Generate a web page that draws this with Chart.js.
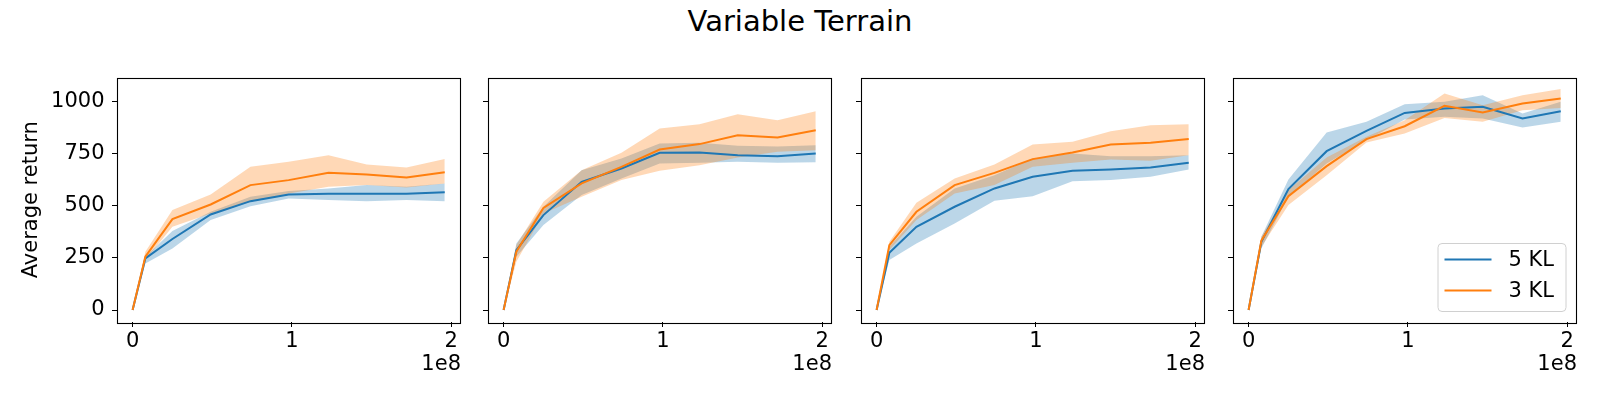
<!DOCTYPE html>
<html>
<head>
<meta charset="utf-8">
<script src="https://cdn.jsdelivr.net/npm/chart.js@4.4.1/dist/chart.umd.min.js"></script>
<style>
  body { margin: 0; background: #fff; }
  #wrap { position: relative; width: 1600px; height: 400px; overflow: hidden; }
  #title { position: absolute; left: 0; top: 7px; width: 1600px; text-align: center;
           font-family: "DejaVu Sans"; font-size: 29px; line-height: 29px; color: #000; }
  .panel { position: absolute; top: 0; height: 400px; }
</style>
</head>
<body>
<div id="wrap">
  <div id="title">Variable Terrain</div>
</div>
<script>
// training steps (x) shared by every panel
const steps = [0, 8e6, 2.5e7, 4.9e7, 7.4e7, 9.8e7, 1.23e8, 1.47e8, 1.72e8, 1.96e8];
const xTicks = [0, 1e8, 2e8];
const yTicks = [0, 250, 500, 750, 1000];
const seriesNames = ['5 KL', '3 KL'];

// one row per panel
const kl5Mean = [
    [0, 248, 341, 459, 523, 555, 558, 558, 558, 566],
    [0, 288, 456, 616, 680, 755, 757, 744, 739, 752],
    [0, 275, 400, 496, 584, 640, 669, 675, 685, 707],
    [0, 328, 581, 763, 861, 947, 968, 976, 920, 955]
];
const kl5Low = [
    [0, 224, 296, 432, 499, 536, 528, 523, 528, 523],
    [0, 256, 408, 552, 632, 704, 707, 712, 707, 710],
    [0, 240, 320, 416, 525, 547, 619, 624, 640, 675],
    [0, 296, 544, 704, 816, 915, 928, 920, 877, 904]
];
const kl5High = [
    [0, 256, 379, 472, 544, 572, 584, 600, 592, 608],
    [0, 320, 496, 672, 728, 800, 803, 789, 786, 792],
    [0, 304, 448, 584, 648, 728, 752, 739, 739, 744],
    [0, 352, 627, 853, 904, 989, 1000, 1032, 944, 1000]
];
const kl3Mean = [
    [0, 256, 437, 507, 600, 624, 659, 651, 637, 662],
    [0, 280, 490, 608, 688, 771, 797, 840, 829, 864],
    [0, 312, 472, 600, 659, 725, 757, 795, 803, 821],
    [0, 333, 547, 691, 821, 883, 981, 949, 992, 1016]
];
const kl3Low = [
    [0, 240, 400, 464, 520, 560, 592, 600, 589, 608],
    [0, 232, 464, 544, 624, 669, 696, 733, 760, 768],
    [0, 288, 432, 560, 600, 688, 707, 723, 717, 744],
    [0, 304, 504, 648, 805, 848, 923, 904, 960, 970]
];
const kl3High = [
    [0, 280, 480, 555, 688, 712, 744, 699, 685, 725],
    [0, 312, 520, 672, 755, 872, 893, 941, 912, 955],
    [0, 328, 515, 632, 699, 795, 808, 859, 888, 893],
    [0, 352, 576, 733, 832, 912, 1040, 984, 1032, 1062]
];

const BLUE = '#1f77b4';
const ORANGE = '#ff7f0e';
const FONT = { family: 'DejaVu Sans', size: 21 };

// layout of the four axes boxes (page pixels)
const areaLeft = [117, 488, 861, 1233];
const areaWidth = 344;
const areaTop = 77.5;
const xAxisHeight = 78;

function pts(values) {
    return values.map((v, i) => ({ x: steps[i], y: v }));
}

// black box round the plot area, like matplotlib spines
const framePlugin = {
    id: 'frame',
    afterDatasetsDraw(chart) {
        const a = chart.chartArea;
        const ctx = chart.ctx;
        ctx.save();
        ctx.strokeStyle = '#000';
        ctx.lineWidth = 1.1;
        ctx.strokeRect(Math.round(a.left) + 0.5, Math.round(a.top) + 0.5,
            Math.round(a.right - a.left) - 1, Math.round(a.bottom - a.top));
        ctx.restore();
    }
};

// matplotlib-style legend box in the lower right corner
const legendPlugin = {
    id: 'boxLegend',
    afterDraw(chart, args, opts) {
        if (!opts.show) return;
        const a = chart.chartArea;
        const ctx = chart.ctx;
        const w = 128, h = 68;
        const x0 = a.right - 11.5 - w;
        const y0 = a.bottom - 11 - h;
        ctx.save();
        ctx.beginPath();
        ctx.roundRect(x0 + 0.5, y0 + 0.5, w, h, 4);
        ctx.fillStyle = 'rgba(255,255,255,0.8)';
        ctx.fill();
        ctx.strokeStyle = '#d0d0d0';
        ctx.lineWidth = 1;
        ctx.stroke();
        const colors = [BLUE, ORANGE];
        ctx.font = '21px "DejaVu Sans"';
        ctx.textBaseline = 'middle';
        ctx.textAlign = 'left';
        seriesNames.forEach((name, i) => {
            const y = y0 + 16.5 + i * 31;
            ctx.strokeStyle = colors[i];
            ctx.lineWidth = 2;
            ctx.beginPath();
            ctx.moveTo(x0 + 7, y);
            ctx.lineTo(x0 + 54, y);
            ctx.stroke();
            ctx.fillStyle = '#000';
            ctx.fillText(name, x0 + 71, y + 1);
        });
        ctx.restore();
    }
};

const wrap = document.getElementById('wrap');

for (let k = 0; k < 4; k++) {
    const axisW = k === 0 ? areaLeft[0] : 20;
    const canvasLeft = areaLeft[k] - axisW;
    const canvasW = axisW + areaWidth + 4;

    const div = document.createElement('div');
    div.className = 'panel';
    div.style.left = canvasLeft + 'px';
    div.style.width = canvasW + 'px';
    const canvas = document.createElement('canvas');
    div.appendChild(canvas);
    wrap.appendChild(div);

    new Chart(canvas.getContext('2d'), {
        type: 'line',
        data: {
            datasets: [
                { data: pts(kl5Mean[k]), borderColor: BLUE, borderWidth: 2, order: 1 },
                { data: pts(kl3Mean[k]), borderColor: ORANGE, borderWidth: 2, order: 0 },
                { data: pts(kl5Low[k]), borderWidth: 0, borderColor: 'rgba(0,0,0,0)', order: 5 },
                { data: pts(kl5High[k]), borderWidth: 0, borderColor: 'rgba(0,0,0,0)',
                  fill: '-1', backgroundColor: 'rgba(31,119,180,0.3)', order: 4 },
                { data: pts(kl3Low[k]), borderWidth: 0, borderColor: 'rgba(0,0,0,0)', order: 3 },
                { data: pts(kl3High[k]), borderWidth: 0, borderColor: 'rgba(0,0,0,0)',
                  fill: '-1', backgroundColor: 'rgba(255,127,14,0.3)', order: 2 }
            ]
        },
        options: {
            responsive: true,
            maintainAspectRatio: false,
            animation: false,
            devicePixelRatio: 1,
            layout: { padding: { top: areaTop, right: 4, left: 0, bottom: 0 } },
            elements: { point: { radius: 0 }, line: { tension: 0 } },
            plugins: {
                legend: { display: false },
                tooltip: { enabled: false },
                boxLegend: { show: k === 3 }
            },
            scales: {
                x: {
                    type: 'linear',
                    min: -0.098e8,
                    max: 2.062e8,
                    afterBuildTicks: s => { s.ticks = xTicks.map(v => ({ value: v })); },
                    afterFit: s => { s.height = xAxisHeight; s.paddingLeft = 0; s.paddingRight = 0; },
                    border: { display: false },
                    grid: { drawOnChartArea: false, drawTicks: true, tickLength: 5, color: '#000', lineWidth: 1 },
                    ticks: {
                        color: '#000', font: FONT, padding: 2, maxRotation: 0,
                        callback: v => String(v / 1e8)
                    },
                    title: {
                        display: true, text: '1e8', align: 'end', color: '#000', font: FONT,
                        padding: { top: 0, bottom: 23 }
                    }
                },
                y: {
                    type: 'linear',
                    min: -57.6,
                    max: 1117,
                    afterBuildTicks: s => { s.ticks = yTicks.map(v => ({ value: v })); },
                    afterFit: s => { s.width = axisW; s.paddingTop = 0; s.paddingBottom = 0; },
                    border: { display: false },
                    grid: { drawOnChartArea: false, drawTicks: true, tickLength: 5, color: '#000', lineWidth: 1 },
                    ticks: { display: k === 0, color: '#000', font: FONT, padding: 7.5, callback: v => String(v) },
                    title: {
                        display: k === 0, text: 'Average return', color: '#000', font: FONT,
                        padding: { top: 18.7, bottom: 0 }
                    }
                }
            }
        },
        plugins: [framePlugin, legendPlugin]
    });
}
</script>
</body>
</html>
